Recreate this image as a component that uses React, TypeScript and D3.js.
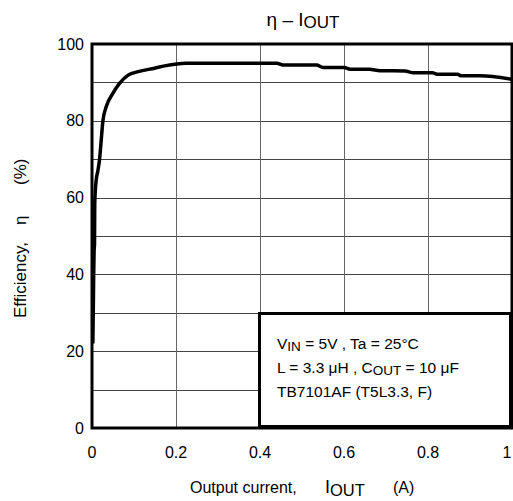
import React from "react";
import * as d3 from "d3";

const currentA = [0.002, 0.003, 0.004, 0.005, 0.006, 0.0065, 0.008, 0.010, 0.014, 0.018, 0.022, 0.026, 0.034, 0.05, 0.066, 0.086, 0.11, 0.149, 0.173, 0.224, 0.44, 0.455, 0.535, 0.55, 0.6, 0.615, 0.66, 0.686, 0.745, 0.765, 0.81, 0.824, 0.87, 0.88, 0.924, 1.0];
const efficiency = [22, 30, 40, 46, 48, 58, 62, 64.6, 67, 70, 75, 80, 83.7, 87.2, 89.8, 91.9, 92.8, 93.7, 94.3, 95, 95, 94.5, 94.5, 93.9, 93.9, 93.4, 93.4, 93.05, 93.0, 92.5, 92.5, 92.1, 92.1, 91.7, 91.7, 90.8];
const xTicks = [0, 0.2, 0.4, 0.6, 0.8, 1];
const xTickLabels = ["0", "0.2", "0.4", "0.6", "0.8", "1"];
const yTicks = [0, 20, 40, 60, 80, 100];
const yGrid = [10, 20, 30, 40, 50, 60, 70, 80, 90];
const xGrid = [0.2, 0.4, 0.6, 0.8];

const FONT = "'Liberation Sans', Arial, sans-serif";

export default function App() {
  const W = 513, H = 501;
  const L = 92, R = 512, T = 44, B = 428;
  const x = d3.scaleLinear().domain([0, 1]).range([L, R]);
  const y = d3.scaleLinear().domain([0, 100]).range([B, T]);
  const line = d3.line<number>()
    .x((_, i) => x(currentA[i]))
    .y((d) => y(d))
    .curve(d3.curveMonotoneX);
  const px = (v: number) => Math.round(v) + 0.5;

  return (
    <svg width={W} height={H} style={{ position: "absolute", left: 0, top: 0, background: "#fff" }} fontFamily={FONT}>
      <rect x={0} y={0} width={W} height={H} fill="#fff" />
      {/* title */}
      <text x={303} y={26} fontSize={19} fill="#000" textAnchor="middle">
        η – I<tspan fontSize={17} dy={2}>OUT</tspan>
      </text>
      {/* grid */}
      {yGrid.map((v) => (
        <line key={"h" + v} x1={L} x2={R} y1={px(y(v))} y2={px(y(v))} stroke="#444" strokeWidth={1} shapeRendering="crispEdges" />
      ))}
      {xGrid.map((v) => (
        <line key={"v" + v} x1={px(x(v))} x2={px(x(v))} y1={T} y2={B} stroke="#666" strokeWidth={1} shapeRendering="crispEdges" />
      ))}
      {/* curve */}
      <path d={line(efficiency) || ""} fill="none" stroke="#000" strokeWidth={3.5} strokeLinejoin="round" />
      {/* legend box */}
      <rect x={259.5} y={313.5} width={251} height={113} fill="#fff" stroke="#000" strokeWidth={3} />
      <text x={277} y={349} fontSize={15.5} fill="#000">
        V<tspan fontSize={13.5} dy={2}>IN</tspan><tspan dy={-2}> = 5V , Ta = 25°C</tspan>
      </text>
      <text x={277} y={373} fontSize={15.5} fill="#000">
        L = 3.3 μH , C<tspan fontSize={13.5} dy={2}>OUT</tspan><tspan dy={-2}> = 10 μF</tspan>
      </text>
      <text x={277} y={397} fontSize={15.5} fill="#000">TB7101AF (T5L3.3, F)</text>
      {/* frame */}
      <rect x={L} y={T} width={R - L} height={B - T} fill="none" stroke="#000" strokeWidth={3} />
      {/* y tick labels */}
      {yTicks.map((v) => (
        <text key={"yt" + v} x={84} y={y(v) + 5.5} fontSize={16} textAnchor="end" fill="#000">{v}</text>
      ))}
      {/* x tick labels */}
      {xTicks.map((v, i) => (
        <text key={"xt" + v} x={Math.min(x(v), 507)} y={458} fontSize={16} textAnchor="middle" fill="#000">{xTickLabels[i]}</text>
      ))}
      {/* x title */}
      <text x={190} y={493} fontSize={16} fill="#000">Output current,</text>
      <text x={325} y={493} fontSize={18} fill="#000">
        I<tspan fontSize={16.5} dy={3}>OUT</tspan>
      </text>
      <text x={393} y={493} fontSize={16} fill="#000">(A)</text>
      {/* y title */}
      <g transform="translate(26,318) rotate(-90)">
        <text x={0} y={0} fontSize={17} fill="#000">Efficiency,</text>
        <text x={93} y={0} fontSize={17} fill="#000">η</text>
        <text x={133} y={0} fontSize={17} fill="#000">(%)</text>
      </g>
    </svg>
  );
}
